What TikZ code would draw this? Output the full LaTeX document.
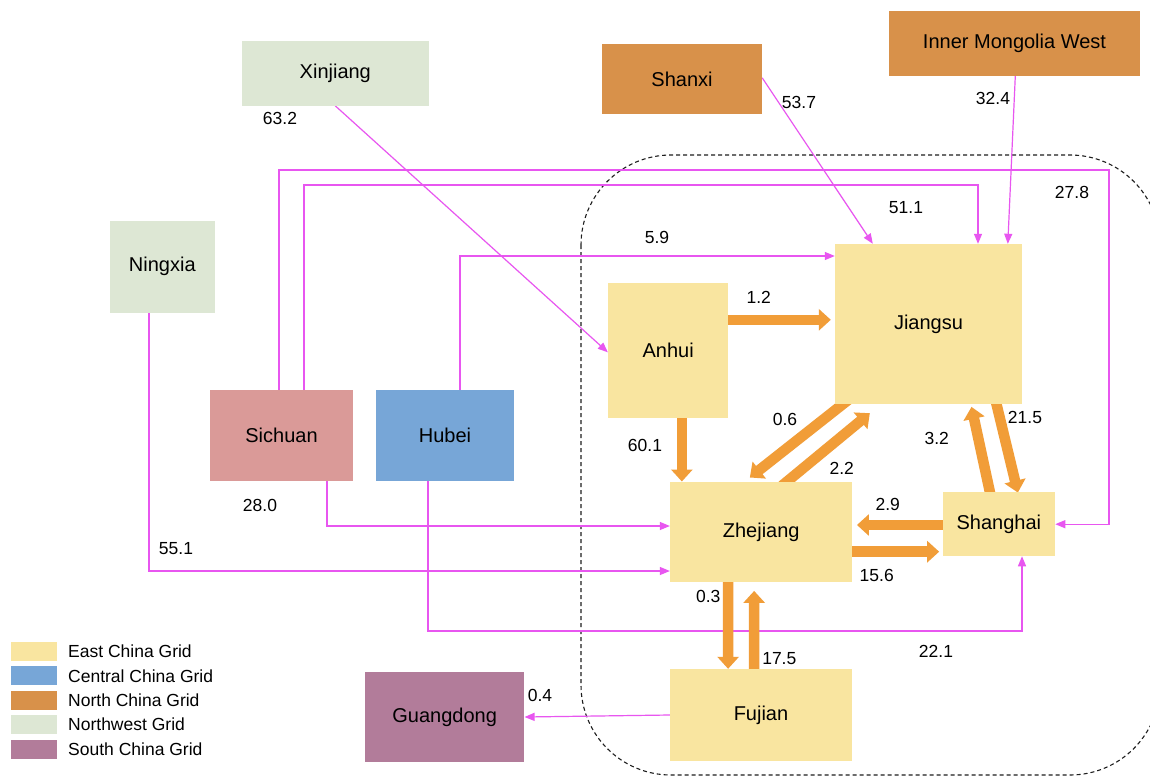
\documentclass[tikz,border=0pt]{standalone}
\usepackage{fontspec}
\setmainfont{Liberation Sans}
\usetikzlibrary{arrows.meta,calc,backgrounds}
\definecolor{eastc}{RGB}{249,229,160}
\definecolor{centralc}{RGB}{119,166,215}
\definecolor{northc}{RGB}{216,145,74}
\definecolor{nwc}{RGB}{221,231,212}
\definecolor{southc}{RGB}{178,124,154}
\definecolor{sichuanc}{RGB}{218,154,152}
\definecolor{orangearr}{RGB}{241,157,56}
\definecolor{magline}{RGB}{232,86,240}
\definecolor{dashc}{RGB}{30,30,30}
\newcommand{\boxfont}{\fontsize{20}{24}\selectfont}
\newcommand{\lblfont}{\fontsize{17.5}{21}\selectfont}
\tikzset{
  region/.style={rectangle, inner sep=0pt, draw=none, font=\boxfont, text=black},
  lbl/.style={inner sep=0pt, font=\lblfont, text=black},
  mag/.style={draw=magline, line width=1.2pt, -{Triangle[length=10pt,width=8pt]}},
  flow/.style={draw=orangearr, line width=10.5pt, -{Triangle[length=12pt 0 0,width=21pt 0 0]}},
  swatch/.style={rectangle, inner sep=0pt, minimum width=45.5pt, minimum height=19pt},
  legtext/.style={anchor=west, inner sep=0pt, font=\lblfont, text=black}
}
\begin{document}
\begin{tikzpicture}[x=1pt,y=-1pt]
\useasboundingbox (0,0) rectangle (1150,776);
% region boxes
\node[region, fill=nwc, minimum width=187pt, minimum height=64.7pt] (xinjiang) at (335.3,73.3) {Xinjiang};
\node[region, fill=northc, minimum width=160pt, minimum height=70pt] (shanxi) at (682,79) {Shanxi};
\node[region, fill=northc, minimum width=251pt, minimum height=64.7pt] (imw) at (1014.5,43.3) {Inner Mongolia West};
\node[region, fill=nwc, minimum width=104.7pt, minimum height=91.7pt] (ningxia) at (162.3,266.8) {Ningxia};
\node[region, fill=sichuanc, minimum width=143pt, minimum height=91pt] (sichuan) at (281.5,435.5) {Sichuan};
\node[region, fill=centralc, minimum width=138pt, minimum height=91pt] (hubei) at (445,435.5) {Hubei};
\node[region, fill=eastc, minimum width=120.3pt, minimum height=135.8pt] (anhui) at (668.2,350.4) {Anhui};
\node[region, fill=eastc, minimum width=187pt, minimum height=160pt] (jiangsu) at (928.5,324) {Jiangsu};
\node[region, fill=eastc, minimum width=182.3pt, minimum height=100.6pt] (zhejiang) at (761.2,532) {Zhejiang};
\node[region, fill=eastc, minimum width=112.3pt, minimum height=63.7pt] (shanghai) at (998.9,524.2) {Shanghai};
\node[region, fill=eastc, minimum width=182pt, minimum height=92pt] (fujian) at (761,715) {Fujian};
\node[region, fill=southc, minimum width=159.3pt, minimum height=90.6pt] (guangdong) at (444.7,717) {Guangdong};

% waypoints
\coordinate (sjA) at (304,185);
\coordinate (sjB) at (978,185);
\coordinate (ssA) at (279,170);
\coordinate (ssB) at (1109,170);
\coordinate (hj) at (460,256);
\coordinate (sz) at (327,526);
\coordinate (nz) at (149,571);
\coordinate (hsA) at (428,631);
\coordinate (hsB) at (1022,631);

\begin{pgfonlayer}{background}
\fill[white] (0,0) rectangle (1150,776);
% grid boundary
\draw[dashc, line width=1.1pt, dash pattern=on 4pt off 3pt, rounded corners=90pt] (581,155) rectangle (1160,775);
% inter-regional flows
\draw[mag] (xinjiang.south) -- ($(anhui.north west)+(0,70)$);
\draw[mag] ($(shanxi.north east)+(0,34)$) -- ($(jiangsu.north west)+(38,0)$);
\draw[mag] ($(imw.south west)+(126.5,0)$) -- ($(jiangsu.north west)+(173,0)$);
\draw[mag] (sichuan.north -| ssA) -- (ssA) -- (ssB) -- (ssB |- shanghai.east) -- (shanghai.east);
\draw[mag] (sichuan.north -| sjA) -- (sjA) -- (sjB) -- (sjB |- jiangsu.north);
\draw[mag] (hubei.north -| hj) -- (hj) -- (hj -| jiangsu.west);
\draw[mag] (sichuan.south -| sz) -- (sz) -- (sz -| zhejiang.west);
\draw[mag] (ningxia.south -| nz) -- (nz) -- (nz -| zhejiang.west);
\draw[mag] (hubei.south -| hsA) -- (hsA) -- (hsB) -- (hsB |- shanghai.south);
\draw[mag] (fujian.west) -- (guangdong.east);
% intra-grid flows
\draw[flow] ($(anhui.north east)+(-2,37.5)$) -- ($(jiangsu.north west)+(-4,76)$);
\draw[flow] ($(anhui.south west)+(74,-3)$) -- ($(zhejiang.north west)+(12,0)$);
\draw[flow] ($(jiangsu.south west)+(14.3,-5)$) -- ($(zhejiang.north west)+(80,-4)$);
\draw[flow] ($(zhejiang.north west)+(112,4.3)$) -- ($(jiangsu.south west)+(35,9)$);
\draw[flow] ($(jiangsu.south west)+(160,-7)$) -- ($(shanghai.north west)+(75.3,0.4)$);
\draw[flow] ($(shanghai.north west)+(48.8,6.7)$) -- ($(jiangsu.south west)+(136.7,2.7)$);
\draw[flow] ($(shanghai.west)+(3,0.8)$) -- ($(zhejiang.east)+(4.4,-7)$);
\draw[flow] ($(zhejiang.east)+(-3,19.7)$) -- ($(shanghai.west)+(-3.4,27.5)$);
\draw[flow] ($(zhejiang.south west)+(58.3,-3)$) -- ($(fujian.north west)+(58.3,0)$);
\draw[flow] ($(fujian.north west)+(84.3,3)$) -- ($(zhejiang.south west)+(84.3,8.4)$);
\end{pgfonlayer}

% flow values
\node[lbl] (v632) at (280,118) {63.2};
\node[lbl] (v537) at (799,102) {53.7};
\node[lbl] (v324) at (993,98) {32.4};
\node[lbl] (v278) at (1072,192) {27.8};
\node[lbl] (v511) at (906,208) {51.1};
\node[lbl] (v59) at (657,237) {5.9};
\node[lbl] (v12) at (758.7,297) {1.2};
\node[lbl] (v601) at (645,445) {60.1};
\node[lbl] (v06) at (785,419) {0.6};
\node[lbl] (v22) at (841.7,468) {2.2};
\node[lbl] (v215) at (1025,417) {21.5};
\node[lbl] (v32) at (936.7,438) {3.2};
\node[lbl] (v29) at (887.7,504) {2.9};
\node[lbl] (v156) at (876.7,575) {15.6};
\node[lbl] (v280) at (260,505) {28.0};
\node[lbl] (v551) at (176,549) {55.1};
\node[lbl] (v03) at (708.3,596) {0.3};
\node[lbl] (v175) at (779.3,658.3) {17.5};
\node[lbl] (v221) at (936,651.7) {22.1};
\node[lbl] (v04) at (540,695) {0.4};

% legend
\node[swatch, fill=eastc] (k1) at (34,651.4) {};
\node[swatch, fill=centralc] (k2) at (34,675.8) {};
\node[swatch, fill=northc] (k3) at (34,700.2) {};
\node[swatch, fill=nwc] (k4) at (34,724.6) {};
\node[swatch, fill=southc] (k5) at (34,749) {};
\node[legtext] (t1) at (68,651.4) {East China Grid};
\node[legtext] (t2) at (68,675.8) {Central China Grid};
\node[legtext] (t3) at (68,700.2) {North China Grid};
\node[legtext] (t4) at (68,724.6) {Northwest Grid};
\node[legtext] (t5) at (68,749) {South China Grid};
\end{tikzpicture}
\end{document}
